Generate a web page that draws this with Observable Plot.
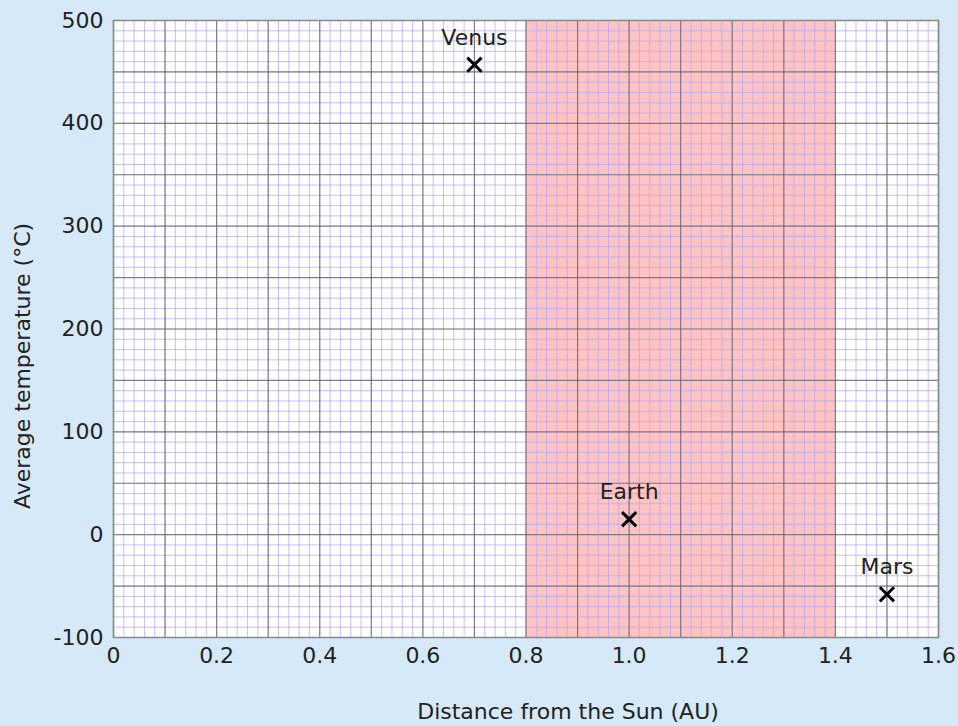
<!DOCTYPE html>
<html>
<head>
<meta charset="utf-8">
<script src="https://cdn.jsdelivr.net/npm/d3@7"></script>
<script src="https://cdn.jsdelivr.net/npm/@observablehq/plot@0.6"></script>
<style>
  html, body { margin: 0; padding: 0; background: #d6e9f8; }
  #chart { width: 958px; height: 726px; }
</style>
</head>
<body>
<div id="chart"></div>
<script>
const planets = ["Venus", "Earth", "Mars"];
const distances = [0.7, 1.0, 1.5];
const temperatures = [457, 15, -58];
const zoneStart = [0.8];
const zoneEnd = [1.4];
const xTicks = [0, 0.2, 0.4, 0.6, 0.8, 1.0, 1.2, 1.4, 1.6];
const xTickLabels = ["0", "0.2", "0.4", "0.6", "0.8", "1.0", "1.2", "1.4", "1.6"];
const yTicks = [-100, 0, 100, 200, 300, 400, 500];
const xTitle = "Distance from the Sun (AU)";
const yTitle = "Average temperature (°C)";

const data = planets.map((p, i) => ({name: p, x: distances[i], y: temperatures[i]}));
const zone = zoneStart.map((s, i) => ({x1: s, x2: zoneEnd[i]}));

const minorX = d3.range(0, 81).map(i => i / 50);
const majorX = d3.range(0, 17).map(i => i / 10);
const minorY = d3.range(0, 61).map(i => -100 + i * 10);
const majorY = d3.range(0, 13).map(i => -100 + i * 50);

const fmt = new Map(xTicks.map((t, i) => [t, xTickLabels[i]]));

const chart = Plot.plot({
  width: 958,
  height: 726,
  marginLeft: 113,
  marginRight: 20,
  marginTop: 20,
  marginBottom: 89,
  style: {background: "#d6e9f8", fontFamily: "DejaVu Sans", fontSize: "22px", color: "#222"},
  x: {domain: [0, 1.6], ticks: xTicks, tickFormat: d => fmt.get(Math.round(d * 10) / 10), label: null, tickSize: 0, tickPadding: 10},
  y: {domain: [-100, 500], ticks: yTicks, tickFormat: d => String(d), label: null, tickSize: 0, tickPadding: 10},
  marks: [
    Plot.frame({fill: "white"}),
    Plot.rectX(zone, {x1: "x1", x2: "x2", y1: -100, y2: 500, fill: "#ffb8b8", fillOpacity: 0.85}),
    Plot.ruleX(minorX, {stroke: "#b0a8f5", strokeWidth: 1, strokeOpacity: 0.75}),
    Plot.ruleY(minorY, {stroke: "#b0a8f5", strokeWidth: 1, strokeOpacity: 0.75}),
    Plot.ruleX(majorX, {stroke: "#666", strokeWidth: 1.2, strokeOpacity: 0.75}),
    Plot.ruleY(majorY, {stroke: "#666", strokeWidth: 1.2, strokeOpacity: 0.75}),
    Plot.frame({stroke: "#888", strokeWidth: 1.5}),
    Plot.dot(data, {x: "x", y: "y", symbol: "times", r: 6.5, stroke: "black", strokeWidth: 3}),
    Plot.text(data, {x: "x", y: "y", text: "name", dy: -27, fill: "#222", fontSize: 22}),
    Plot.text([xTitle], {text: d => d, frameAnchor: "bottom", dx: 42, dy: 74, textAnchor: "middle", lineAnchor: "middle", fill: "#222", fontSize: 22}),
    Plot.text([yTitle], {text: d => d, frameAnchor: "left", rotate: -90, dx: -91, dy: 37, textAnchor: "middle", lineAnchor: "middle", fill: "#222", fontSize: 22})
  ]
});
document.getElementById("chart").appendChild(chart);
</script>
</body>
</html>
